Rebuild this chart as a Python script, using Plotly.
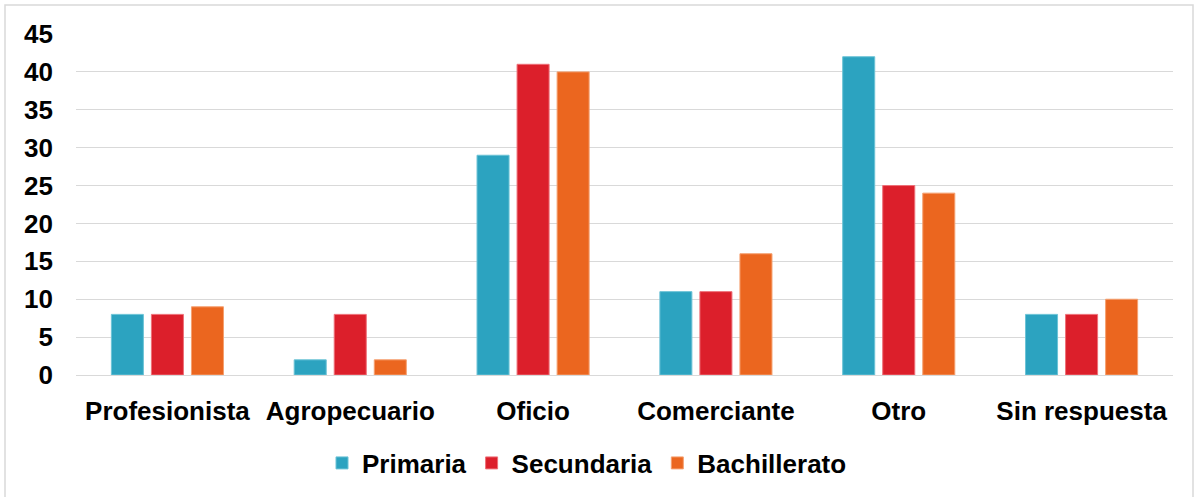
import plotly.graph_objects as go

categories = ["Profesionista", "Agropecuario", "Oficio", "Comerciante", "Otro", "Sin respuesta"]
primaria = [8, 2, 29, 11, 42, 8]
secundaria = [8, 8, 41, 11, 25, 8]
bachillerato = [9, 2, 40, 16, 24, 10]
y_ticks = [0, 5, 10, 15, 20, 25, 30, 35, 40, 45]

series = [
    ("Primaria", primaria, "#2CA3C0", "#6CC3D6"),
    ("Secundaria", secundaria, "#DC1F2B", "#EE7078"),
    ("Bachillerato", bachillerato, "#EB661F", "#F5A070"),
]

fig = go.Figure()
for name, vals, col, edge in series:
    fig.add_trace(go.Bar(x=categories, y=vals, name=name, marker_color=col,
                         marker_line=dict(color=edge, width=1)))

W, H = 1194, 497
L, R, T, B = 76, 21, 34, 121
pw, ph = W - L - R, H - T - B

fig.update_layout(
    width=W, height=H,
    margin=dict(l=L, r=R, t=T, b=B),
    paper_bgcolor="white", plot_bgcolor="white",
    barmode="group", bargap=0.343, bargroupgap=0.2,
    font=dict(family="Liberation Sans, Arial, sans-serif", size=26, color="black"),
    showlegend=True,
    legend=dict(orientation="h", x=(587 - L) / pw, xanchor="center",
                y=(H - B - 463) / ph, yanchor="middle",
                font=dict(size=26, weight="bold"), itemwidth=30,
                traceorder="normal"),
    xaxis=dict(showgrid=False, showline=False, ticks="",
               tickfont=dict(size=26, weight="bold"), ticklabelstandoff=18),
    yaxis=dict(range=[0, 45], tickvals=y_ticks, showgrid=True, gridcolor="#D9D9D9",
               gridwidth=1, zeroline=True, zerolinecolor="#D9D9D9", zerolinewidth=1,
               showline=False, ticks="", tickfont=dict(size=26, weight="bold"),
               ticklabelstandoff=22),
    shapes=[dict(type="rect", xref="paper", yref="paper",
                 x0=(5 - L) / pw, x1=(1193 - L) / pw,
                 y0=(H - B - 505) / ph, y1=(H - B - 5) / ph,
                 line=dict(color="#D9D9D9", width=1.5), fillcolor="rgba(0,0,0,0)",
                 layer="below")],
)

fig.write_html("out.html")
